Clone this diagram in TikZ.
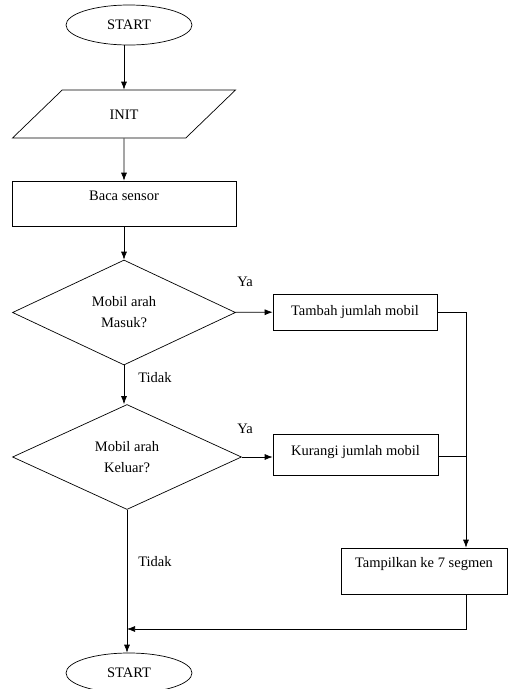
\documentclass[tikz,border=0pt]{standalone}
\usepackage{fontspec}
\setmainfont{Liberation Serif}
\usetikzlibrary{shapes.geometric,positioning,arrows.meta}

\begin{document}
\begin{tikzpicture}[x=1pt, y=-1pt, line width=0.7pt, >={Latex[length=8pt,width=6pt]},
                every node/.append style = {font=\fontsize{14.5}{21}\selectfont},
                terminal/.style = {draw, ellipse, minimum width=126pt, minimum height=40pt, inner sep=0pt},
                io/.style = {draw, trapezium, trapezium left angle=44, trapezium right angle=136,
                    trapezium stretches body, minimum width=223pt, text height=10pt, text depth=0pt,
                    inner xsep=0pt, inner ysep=19pt},
                process/.style = {draw, rectangle, inner sep=0pt},
                decision/.style = {draw, diamond, align=center, inner sep=0pt,
                    minimum width=223pt, minimum height=105pt}]
            \useasboundingbox (0,0) rectangle (507,689);
            \node[terminal] (start) at (129,25) {START};
            \node[io] (init) at (124,114) {INIT};
            \node[process, minimum width=224pt, minimum height=45pt, text depth=15pt] (baca) at (124,203.5) {Baca sensor};
            \node[decision] (masuk) at (124,312.5) {Mobil arah\\Masuk?};
            \node[decision, minimum width=229pt] (keluar) at (127,457) {Mobil arah\\Keluar?};
            \node[process, minimum width=164pt, minimum height=36pt] (tambah) at (355,312) {Tambah jumlah mobil};
            \node[process, minimum width=165pt, minimum height=41pt, text depth=9pt] (kurangi) at (355.5,454.5) {Kurangi jumlah mobil};
            \node[process, minimum width=166pt, minimum height=46pt, text depth=18pt] (tampil) at (424,571) {Tampilkan ke 7 segmen};
            \node[terminal] (stop) at (129,673) {START};
            \node (ya1) at (245,282) {Ya};
            \node (tidak1) at (155,378) {Tidak};
            \node (ya2) at (245,429) {Ya};
            \node (tidak2) at (155,562) {Tidak};
            \coordinate (sambung) at (466,456);
            \coordinate (balik) at (127,629);
            \draw[->] (start.south -| init.north) -- (init.north);
            \draw[->] (init) -- (baca);
            \draw[->] (baca) -- (masuk);
            \draw[->] (masuk) -- (tambah);
            \draw[->] (masuk.south) -- (masuk.south |- keluar.north);
            \draw[->] (keluar) -- (keluar -| kurangi.west);
            \draw[->] (keluar.south) -- (keluar.south |- stop.north);
            \draw (tambah.east) -| (sambung);
            \draw (kurangi.east |- sambung) -- (sambung);
            \draw[->] (sambung) -- (sambung |- tampil.north);
            \draw[->] (sambung |- tampil.south) |- (balik);
            \end{tikzpicture}
\end{document}
